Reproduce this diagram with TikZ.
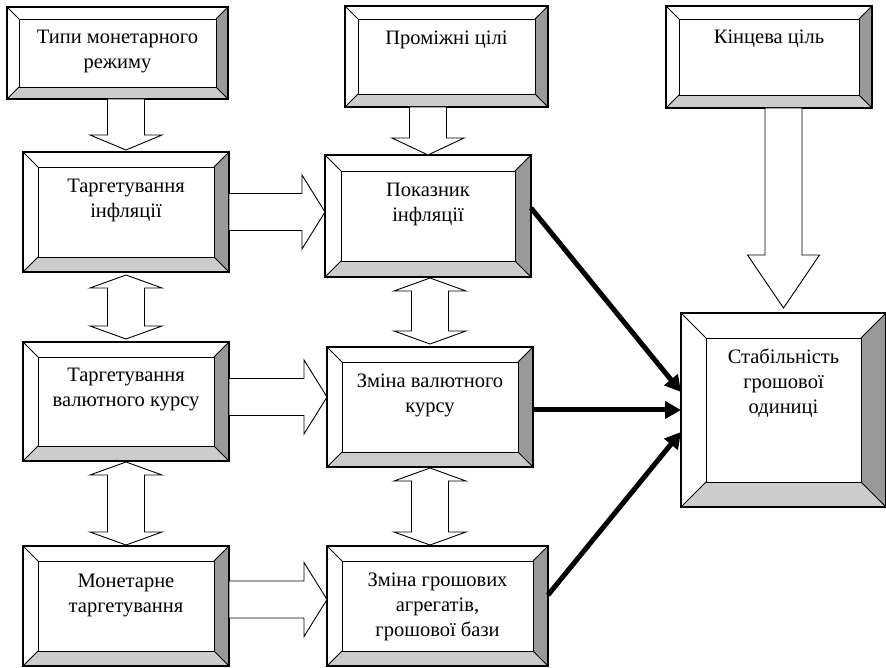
\documentclass[tikz,border=0pt]{standalone}
\usepackage{fontspec}
\setmainfont{Liberation Serif}
\usetikzlibrary{calc,arrows.meta}

\definecolor{bevlight}{HTML}{CCCCCC}
\definecolor{bevdark}{HTML}{999999}

\tikzset{
	panel/.style={draw, fill=white, line width=1.2pt, inner sep=0pt, outer sep=0pt},
	caption/.style={anchor=north, align=center, inner sep=0pt, font=\fontsize{20.5}{25}\selectfont},
	blockarr/.style={draw, fill=white, line width=0.9pt, line join=miter},
	thickarr/.style={line width=5pt, -{Triangle[length=16pt,width=17pt]}},
}

% bevelled frame over a panel node: #1 node, #2 bevel width
\newcommand\bevel[2]{
	\fill[bevlight] (#1.south west) -- (#1.south east) -- ($(#1.south east)+(-#2,#2)$) -- ($(#1.south west)+(#2,#2)$) -- cycle;
	\fill[bevdark] (#1.south east) -- (#1.north east) -- ($(#1.north east)+(-#2,-#2)$) -- ($(#1.south east)+(-#2,#2)$) -- cycle;
	\draw[line width=0.8pt] ($(#1.north west)+(#2,-#2)$) rectangle ($(#1.south east)+(-#2,#2)$);
	\draw[line width=0.8pt] (#1.north west) -- ++(#2,-#2) (#1.north east) -- ++(-#2,-#2)
		(#1.south west) -- ++(#2,#2) (#1.south east) -- ++(-#2,#2);
	\draw[line width=1.2pt] (#1.north west) rectangle (#1.south east);
}
% hollow block arrows
\newcommand\blockdown[3]{
	\draw[blockarr] let \p1=#1, \p2=#2 in
		(\x2-18.5,\y1) -- (\x2-18.5,\y2+#3) -- (\x2-36,\y2+#3) -- (\x2,\y2)
		-- (\x2+36,\y2+#3) -- (\x2+18.5,\y2+#3) -- (\x2+18.5,\y1) -- cycle;
}
\newcommand\blockright[2]{
	\draw[blockarr] let \p1=#1, \p2=#2 in
		(\x1,\y1+18.5) -- (\x2-23,\y1+18.5) -- (\x2-23,\y1+37) -- (\x2,\y1)
		-- (\x2-23,\y1-37) -- (\x2-23,\y1-18.5) -- (\x1,\y1-18.5) -- cycle;
}
\newcommand\blockboth[2]{
	\draw[blockarr] let \p1=#1, \p2=#2 in
		(\x1,\y1) -- (\x1+36,\y1-13) -- (\x1+18.5,\y1-13) -- (\x1+18.5,\y2+13) -- (\x1+36,\y2+13)
		-- (\x1,\y2) -- (\x1-36,\y2+13) -- (\x1-18.5,\y2+13) -- (\x1-18.5,\y1-13) -- (\x1-36,\y1-13) -- cycle;
}

\begin{document}
\begin{tikzpicture}[x=1pt,y=1pt]
	\useasboundingbox (0,0) rectangle (886,667);

	\node[panel, minimum width=221, minimum height=92] (regime) at (117.5,614) {};
	\node[panel, minimum width=203, minimum height=101] (interm) at (446.5,610.5) {};
	\node[panel, minimum width=206, minimum height=102] (final) at (769,610) {};
	\node[panel, minimum width=206, minimum height=120] (inflt) at (126,455) {};
	\node[panel, minimum width=206, minimum height=119] (fxt) at (126,265.5) {};
	\node[panel, minimum width=206, minimum height=120] (mont) at (126,61) {};
	\node[panel, minimum width=206, minimum height=122] (infl) at (428,451) {};
	\node[panel, minimum width=206, minimum height=120] (fx) at (430,260) {};
	\node[panel, minimum width=221, minimum height=120] (money) at (437.5,61) {};
	\node[panel, minimum width=205, minimum height=194] (stab) at (783.5,257) {};

	\foreach \pnl/\bw in {regime/12, interm/13, final/13, inflt/15, fxt/15, mont/15, infl/16, fx/15, money/15, stab/25}
		\bevel{\pnl}{\bw};

	\node[caption] (regime-t) at ($(regime.north)+(0,-23)$) {Типи монетарного\\режиму};
	\node[caption] (interm-t) at ($(interm.north)+(0,-25)$) {Проміжні цілі};
	\node[caption] (final-t) at ($(final.north)+(0,-24)$) {Кінцева ціль};
	\node[caption] (inflt-t) at ($(inflt.north)+(0,-27)$) {Таргетування\\інфляції};
	\node[caption] (fxt-t) at ($(fxt.north)+(0,-26)$) {Таргетування\\валютного курсу};
	\node[caption] (mont-t) at ($(mont.north)+(0,-28)$) {Монетарне\\таргетування};
	\node[caption] (infl-t) at ($(infl.north)+(0,-28)$) {Показник\\інфляції};
	\node[caption] (fx-t) at ($(fx.north)+(0,-27)$) {Зміна валютного\\курсу};
	\node[caption] (money-t) at ($(money.north)+(0,-27)$) {Зміна грошових\\агрегатів,\\грошової бази};
	\node[caption] (stab-t) at ($(stab.north)+(0,-36)$) {Стабільність\\грошової\\одиниці};

	\blockdown{(regime.south)}{($(inflt.north)+(0,2)$)}{15}
	\blockdown{(interm.south)}{(infl.north)}{17}
	\blockdown{(final.south)}{($(stab.north)+(0,5)$)}{53}

	\blockboth{($(inflt.south)+(0,-3)$)}{($(fxt.north)+(0,3)$)}
	\blockboth{($(fxt.south)+(0,-1)$)}{($(mont.north)+(0,1)$)}
	\blockboth{($(infl.south -| fx.north)+(0,-1)$)}{($(fx.north)+(0,3)$)}
	\blockboth{($(fx.south)+(0,-1)$)}{($(money.north)+(0,1)$)}

	\blockright{(inflt.east)}{(infl.west)}
	\blockright{($(fxt.east)+(0,4.5)$)}{(fx.west)}
	\blockright{($(mont.east)+(0,6.5)$)}{(money.west)}

	\draw[thickarr] ($(infl.east)+(0,8)$) -- ($(stab.west)+(0,18)$);
	\draw[thickarr] (fx.east |- stab.west) -- (stab.west);
	\draw[thickarr] ($(money.east)+(0,11)$) -- ($(stab.west)+(0,-22)$);
\end{tikzpicture}
\end{document}
